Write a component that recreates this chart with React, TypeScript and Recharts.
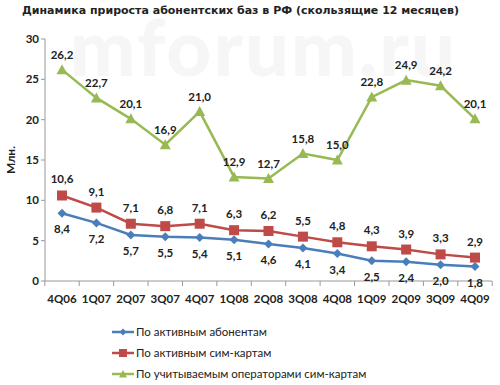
import { LineChart, Line, XAxis, YAxis, Legend, LabelList } from 'recharts'

const quarters = ['4Q06', '1Q07', '2Q07', '3Q07', '4Q07', '1Q08', '2Q08', '3Q08', '4Q08', '1Q09', '2Q09', '3Q09', '4Q09']
const activeSubs = [8.4, 7.2, 5.7, 5.5, 5.4, 5.1, 4.6, 4.1, 3.4, 2.5, 2.4, 2.0, 1.8]
const activeSims = [10.6, 9.1, 7.1, 6.8, 7.1, 6.3, 6.2, 5.5, 4.8, 4.3, 3.9, 3.3, 2.9]
const operatorSims = [26.2, 22.7, 20.1, 16.9, 21.0, 12.9, 12.7, 15.8, 15.0, 22.8, 24.9, 24.2, 20.1]
const yTicks = [0, 5, 10, 15, 20, 25, 30]

const data = quarters.map((q, i) => ({
  q,
  subs: activeSubs[i],
  sims: activeSims[i],
  ops: operatorSims[i],
}))

const BLUE = '#4a7ebb'
const RED = '#be4b48'
const GREEN = '#98b954'
const FONT = 'Lato, "Open Sans", sans-serif'

const fmt = (v: any) => Number(v).toFixed(1).replace('.', ',')

const Diamond = ({ cx, cy }: any) =>
  cx == null ? null : (
    <path d={`M${cx},${cy - 4.5}L${cx + 4.5},${cy}L${cx},${cy + 4.5}L${cx - 4.5},${cy}Z`} fill={BLUE} />
  )
const Square = ({ cx, cy }: any) =>
  cx == null ? null : <rect x={cx - 5} y={cy - 5} width={10} height={10} fill={RED} />
const Triangle = ({ cx, cy }: any) =>
  cx == null ? null : (
    <path d={`M${cx},${cy - 5.5}L${cx + 5.5},${cy + 4.5}L${cx - 5.5},${cy + 4.5}Z`} fill={GREEN} />
  )

// Excel-style tick marks sit between categories
const XTick = ({ x, y, payload, index }: any) => {
  const half = 17.2
  return (
    <g>
      <line x1={x - half} x2={x - half} y1={y - 8} y2={y - 3} stroke="#999" />
      {index === quarters.length - 1 && (
        <line x1={x + half} x2={x + half} y1={y - 8} y2={y - 3} stroke="#999" />
      )}
      <text x={x} y={y + 14} textAnchor="middle" fontSize={11.5} fontWeight={700} fill="#222" fontFamily={FONT}>
        {payload.value}
      </text>
    </g>
  )
}

const legendItems = [
  { label: 'По активным абонентам', color: BLUE, shape: 'd' },
  { label: 'По активным сим-картам', color: RED, shape: 's' },
  { label: 'По учитываемым операторами сим-картам', color: GREEN, shape: 't' },
]

const LegendBox = () => (
  <div style={{ fontFamily: FONT, fontSize: 11.5, color: '#222' }}>
    {legendItems.map((it) => (
      <div key={it.label} style={{ display: 'flex', alignItems: 'center', height: 21 }}>
        <svg width={22} height={10} style={{ marginRight: 2 }}>
          <line x1={0} x2={22} y1={5} y2={5} stroke={it.color} strokeWidth={2.5} />
          {it.shape === 'd' && <path d="M11,1.5L14.5,5L11,8.5L7.5,5Z" fill={it.color} />}
          {it.shape === 's' && <rect x={7} y={1} width={8} height={8} fill={it.color} />}
          {it.shape === 't' && <path d="M11,1L15,8.5L7,8.5Z" fill={it.color} />}
        </svg>
        <span>{it.label}</span>
      </div>
    ))}
  </div>
)

const labelStyle = { fontSize: 11.5, fontWeight: 700, fill: '#222', fontFamily: FONT }

export default function App() {
  return (
    <div style={{ position: 'absolute', left: 0, top: 0, width: 500, height: 385, background: '#fff', overflow: 'hidden' }}>
      <div
        style={{
          position: 'absolute',
          left: 70,
          top: 8,
          fontFamily: FONT,
          fontWeight: 900,
          fontSize: 78,
          color: '#f6f6f6',
          letterSpacing: 2,
          lineHeight: '76px',
        }}
      >
        mforum.ru
      </div>
      <div
        style={{
          position: 'absolute',
          left: 22,
          top: 4,
          fontFamily: '"DejaVu Sans", Verdana, sans-serif',
          fontWeight: 700,
          fontSize: 11,
          color: '#222',
          whiteSpace: 'nowrap',
        }}
      >
        Динамика прироста абонентских баз в РФ (скользящие 12 месяцев)
      </div>
      <div style={{ position: 'absolute', left: 0, top: 0 }}>
        <LineChart width={500} height={385} data={data} margin={{ top: 39, right: 8, bottom: 74, left: 11 }}>
          <XAxis
            dataKey="q"
            height={30}
            stroke="#999"
            tickLine={false}
            tick={<XTick />}
            interval={0}
            padding={{ left: 17, right: 17 }}
          />
          <YAxis
            width={34}
            domain={[0, 30]}
            ticks={yTicks}
            stroke="#999"
            tickSize={4}
            tick={{ fontSize: 11.5, fontWeight: 700, fill: '#222', fontFamily: FONT }}
            label={{
              value: 'Млн.',
              angle: -90,
              position: 'insideLeft',
              offset: 0,
              style: { fontSize: 12, fontWeight: 700, fill: '#222', fontFamily: FONT, textAnchor: 'middle' },
            }}
          />
          <Legend
            layout="vertical"
            align="center"
            verticalAlign="middle"
            wrapperStyle={{ left: 112, top: 321, width: 300 }}
            content={<LegendBox />}
          />
          <Line dataKey="subs" name="По активным абонентам" stroke={BLUE} strokeWidth={2.5} dot={<Diamond />} activeDot={false} isAnimationActive={false}>
            <LabelList dataKey="subs" position="bottom" offset={12} formatter={fmt} style={labelStyle} />
          </Line>
          <Line dataKey="sims" name="По активным сим-картам" stroke={RED} strokeWidth={2.5} dot={<Square />} activeDot={false} isAnimationActive={false}>
            <LabelList dataKey="sims" position="top" offset={12} formatter={fmt} style={labelStyle} />
          </Line>
          <Line dataKey="ops" name="По учитываемым операторами сим-картам" stroke={GREEN} strokeWidth={2.5} dot={<Triangle />} activeDot={false} isAnimationActive={false}>
            <LabelList dataKey="ops" position="top" offset={11} formatter={fmt} style={labelStyle} />
          </Line>
        </LineChart>
      </div>
    </div>
  )
}
